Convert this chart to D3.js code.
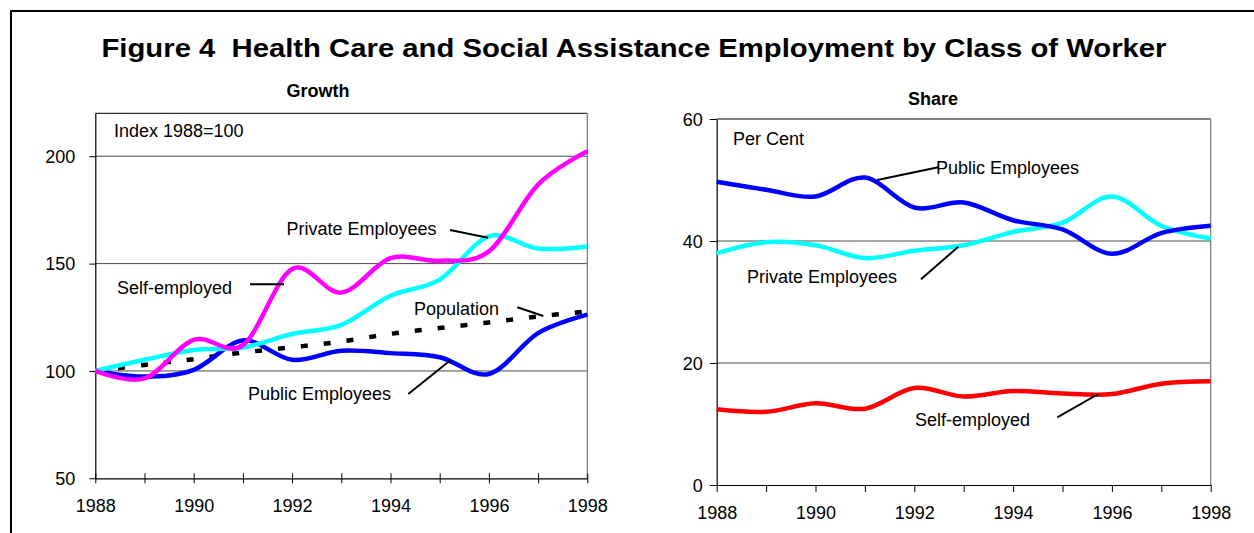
<!DOCTYPE html>
<html>
<head>
<meta charset="utf-8">
<script src="https://cdn.jsdelivr.net/npm/d3@7"></script>
<style>
  html, body { margin: 0; padding: 0; background: #fff; }
  svg { display: block; }
  text { font-family: "Liberation Sans", Arial, sans-serif; fill: #000; }
</style>
</head>
<body>
<svg id="chart" width="1254" height="533"></svg>
<script>
// ---------- DATA ----------
const years = [1988, 1989, 1990, 1991, 1992, 1993, 1994, 1995, 1996, 1997, 1998];

// Growth (Index 1988=100)
const growthSelfEmployed = [100, 96.5, 114.5, 112, 147.5, 136.5, 152.5, 151.3, 155.7, 186.8, 202.3];
const growthPrivate      = [100, 105.2, 109.8, 110.9, 117.2, 121.5, 135, 142.5, 162.7, 157, 158];
const growthPublic       = [100, 97.4, 100.5, 114.2, 105.2, 109.4, 108.3, 106.4, 98.6, 117.6, 126.2];
const growthPopulation   = [100, 102.8, 105.5, 108.6, 111, 113.7, 117.3, 120, 122.6, 125.4, 127.7];

// Share (Per Cent)
const sharePublic       = [49.7, 48.4, 47.3, 50.4, 45.5, 46.3, 43.4, 41.9, 37.9, 41.3, 42.5];
const sharePrivate      = [38.0, 39.8, 39.3, 37.2, 38.4, 39.3, 41.5, 43.0, 47.3, 42.5, 40.4];
const shareSelfEmployed = [12.4, 12.0, 13.4, 12.5, 15.9, 14.5, 15.4, 15.0, 14.9, 16.6, 17.0];

const growthTicks = [50, 100, 150, 200];
const shareTicks = [0, 20, 40, 60];

const titleText = "Figure 4  Health Care and Social Assistance Employment by Class of Worker";

// ---------- DRAW ----------
const FONT = "'Liberation Sans', Arial, sans-serif";
const svg = d3.select("#chart");

// outer frame
svg.append("rect").attr("x", 11).attr("y", 11).attr("width", 1270).attr("height", 560)
  .attr("fill", "none").attr("stroke", "#000").attr("stroke-width", 2);

svg.append("text").attr("x", 101.5).attr("y", 57)
  .style("white-space", "pre")
  .attr("font-family", FONT)
  .attr("font-size", 26).attr("font-weight", "bold")
  .attr("textLength", 1065).attr("lengthAdjust", "spacingAndGlyphs")
  .text(titleText);

const curve = d3.curveCardinal.tension(0);

function panel(cfg) {
  const g = svg.append("g");
  const x = d3.scaleLinear().domain([1988, 1998]).range([cfg.x0, cfg.x1]);
  const y = d3.scaleLinear().domain(cfg.yDomain).range([cfg.y0, cfg.y1]);

  // gridlines
  g.append("g").selectAll("line").data(cfg.grid).join("line")
    .attr("x1", cfg.x0).attr("x2", cfg.x1)
    .attr("y1", d => y(d)).attr("y2", d => y(d))
    .attr("stroke", "#4a4a4a").attr("stroke-width", 1);

  // plot border top & right
  g.append("line").attr("x1", cfg.x0).attr("x2", cfg.x1).attr("y1", cfg.y1).attr("y2", cfg.y1)
    .attr("stroke", "#000").attr("stroke-width", 1);
  g.append("line").attr("x1", cfg.x1).attr("x2", cfg.x1).attr("y1", cfg.y1).attr("y2", cfg.y0)
    .attr("stroke", "#777").attr("stroke-width", 1.2);

  // y axis
  const ya = g.append("g").attr("transform", `translate(${cfg.x0},0)`)
    .call(d3.axisLeft(y).tickValues(cfg.yTicks).tickSize(cfg.yTickSize).tickSizeOuter(0).tickFormat(d3.format("d")));
  ya.select(".domain").attr("stroke", "#000").attr("stroke-width", 1.2);
  ya.selectAll(".tick line").attr("stroke", "#000");
  ya.selectAll(".tick text").attr("x", -cfg.yLabelGap).attr("dy", "0.35em")
    .attr("font-size", 18).attr("font-family", FONT);

  // x axis
  const xa = g.append("g").attr("transform", `translate(0,${cfg.y0})`)
    .call(d3.axisBottom(x).tickValues(years).tickSize(6).tickSizeOuter(0)
      .tickFormat(d => d % 2 === 0 ? String(d) : ""));
  xa.select(".domain").attr("stroke", "#000").attr("stroke-width", 1.2);
  xa.selectAll(".tick line").attr("stroke", "#000")
    .attr("y1", cfg.crossTicks ? -5 : 0).attr("y2", cfg.crossTicks ? 5 : 7);
  xa.selectAll(".tick text").attr("y", cfg.xLabelY).attr("dy", 0)
    .attr("font-size", 18).attr("font-family", FONT);

  // series
  const line = d3.line().x((d, i) => x(years[i])).y(d => y(d)).curve(curve);
  cfg.series.forEach(s => {
    g.append("path").datum(s.values)
      .attr("d", line)
      .attr("fill", "none")
      .attr("stroke", s.color)
      .attr("stroke-width", s.width || 4.5)
      .attr("stroke-dasharray", s.dash || null)
      .attr("stroke-linejoin", "round");
  });

  // panel subtitle
  g.append("text").attr("x", cfg.subX).attr("y", cfg.subY).attr("text-anchor", "middle")
    .attr("font-family", FONT)
    .attr("font-size", 18).attr("font-weight", "bold").text(cfg.subtitle);

  return { g, x, y };
}

// Left panel: Growth
const L = panel({
  x0: 95.3, x1: 587.3, y0: 478.3, y1: 113.3,
  yDomain: [50, 220], yTicks: growthTicks, grid: [100, 150, 200],
  yTickSize: 6, yLabelGap: 20, xLabelY: 34, crossTicks: true,
  subtitle: "Growth", subX: 318, subY: 97,
  series: [
    { values: growthPopulation, color: "#000", width: 4.5, dash: "7,16" },
    { values: growthPublic, color: "#0000FF" },
    { values: growthPrivate, color: "#00FFFF" },
    { values: growthSelfEmployed, color: "#FF00FF" }
  ]
});

// Right panel: Share
const R = panel({
  x0: 716.7, x1: 1210.7, y0: 485, y1: 119,
  yDomain: [0, 60], yTicks: shareTicks, grid: [20, 40],
  yTickSize: 7, yLabelGap: 14, xLabelY: 33.5, crossTicks: false,
  subtitle: "Share", subX: 933, subY: 105,
  series: [
    { values: sharePrivate, color: "#00FFFF" },
    { values: sharePublic, color: "#0000FF" },
    { values: shareSelfEmployed, color: "#FF0000" }
  ]
});

// annotations
function label(t, x, yb) {
  svg.append("text").attr("x", x).attr("y", yb).attr("font-size", 18)
    .attr("font-family", FONT).text(t);
}
function leader(x1, y1, x2, y2) {
  svg.append("line").attr("x1", x1).attr("y1", y1).attr("x2", x2).attr("y2", y2)
    .attr("stroke", "#000").attr("stroke-width", 2);
}

label("Index 1988=100", 114, 137);
label("Private Employees", 286.5, 235);
leader(450, 230, 488, 237.7);
label("Self-employed", 117, 294);
leader(250, 284.3, 284, 284.3);
label("Population", 414, 315);
leader(517.3, 307.3, 543.3, 316);
label("Public Employees", 248, 400);
leader(408.3, 394, 450.7, 360);

label("Per Cent", 733, 145);
label("Public Employees", 936, 174.3);
leader(877.3, 180, 938.3, 167.3);
label("Private Employees", 747, 283.3);
leader(921, 279.3, 958.3, 246.7);
label("Self-employed", 915, 426);
leader(1057.3, 417.3, 1098.3, 394);
</script>
</body>
</html>
